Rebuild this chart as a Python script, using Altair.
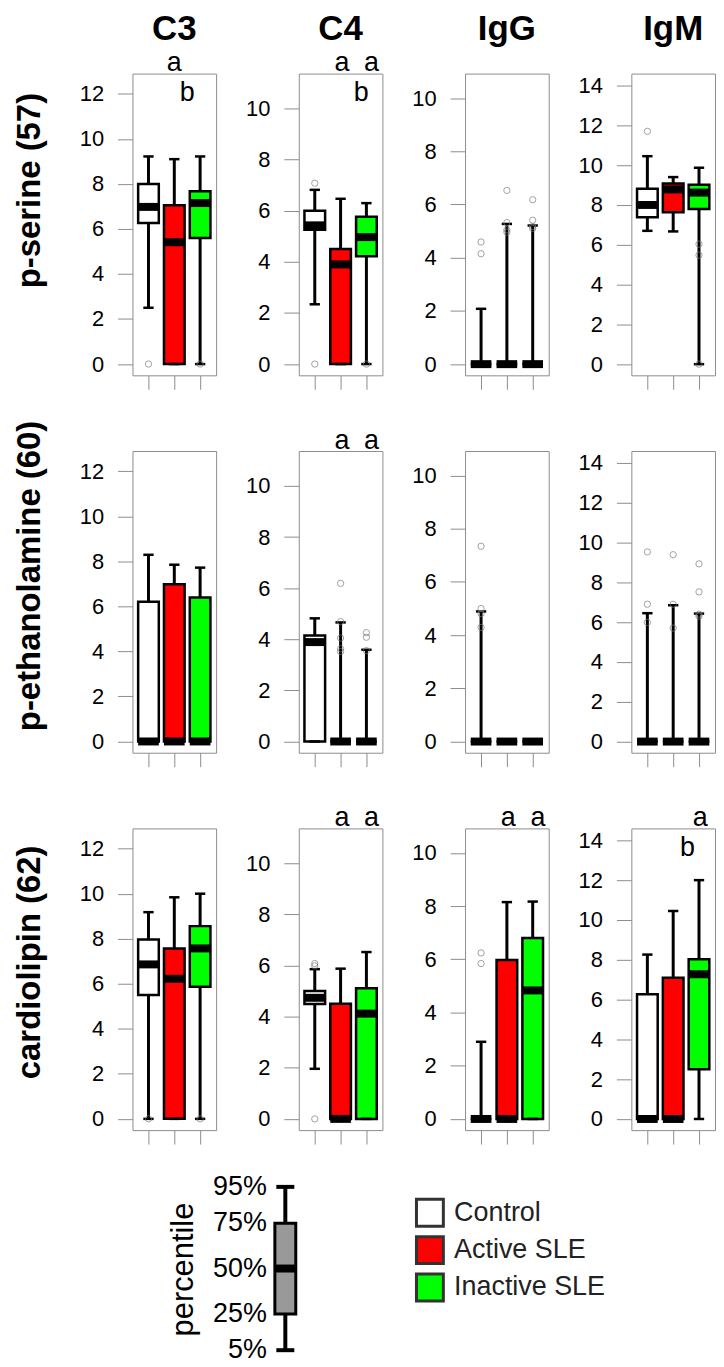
import altair as alt
import pandas as pd

FONT = "Liberation Sans, Arial, sans-serif"
GREY = "#8c8c8c"

ROWS = ["p-serine (57)", "p-ethanolamine (60)", "cardiolipin (62)"]
COLS = ["C3", "C4", "IgG", "IgM"]
GROUPS = ["Control", "Active SLE", "Inactive SLE"]
FILLS = ["#FFFFFF", "#FF0000", "#00FF00"]
POSITIONS = [1, 2, 3]

# y-axis limits and tick values of each column
Y_LIMITS = {"C3": [-0.5, 12.9], "C4": [-0.44, 11.37], "IgG": [-0.42, 10.92], "IgM": [-0.56, 14.6]}
Y_TICKS = {
    "C3": [0, 2, 4, 6, 8, 10, 12],
    "C4": [0, 2, 4, 6, 8, 10],
    "IgG": [0, 2, 4, 6, 8, 10],
    "IgM": [0, 2, 4, 6, 8, 10, 12, 14],
}

# summaries per group (5th pct, 25th, median, 75th, 95th): Control, Active SLE, Inactive SLE
SERINE = {
    "C3": [[2.5, 6.27, 6.98, 8.0, 9.22], [0, 0, 5.41, 7.05, 9.1], [0, 5.6, 7.15, 7.67, 9.22]],
    "C4": [[2.34, 5.26, 5.43, 6.0, 6.82], [0, 0, 3.9, 4.5, 6.47], [0, 4.22, 4.97, 5.77, 6.3]],
    "IgG": [[0, 0, 0, 0, 2.08], [0, 0, 0, 0, 5.27], [0, 0, 0, 0, 5.21]],
    "IgM": [[6.7, 7.38, 8.0, 8.82, 10.45], [6.67, 7.63, 8.78, 9.08, 9.4], [0, 7.8, 8.62, 9.02, 9.87]],
}
ETHANOLAMINE = {
    "C3": [[0, 0, 0, 6.21, 8.29], [0, 0, 0, 6.98, 7.85], [0, 0, 0, 6.39, 7.72]],
    "C4": [[0, 0, 3.89, 4.15, 4.82], [0, 0, 0, 0, 4.66], [0, 0, 0, 0, 3.59]],
    "IgG": [[0, 0, 0, 0, 4.89], [0, 0, 0, 0, 0], [0, 0, 0, 0, 0]],
    "IgM": [[0, 0, 0, 0, 6.45], [0, 0, 0, 0, 6.85], [0, 0, 0, 0, 6.43]],
}
CARDIOLIPIN = {
    "C3": [[0, 5.5, 6.86, 7.97, 9.18], [0, 0, 6.22, 7.57, 9.84], [0, 5.87, 7.57, 8.56, 10.0]],
    "C4": [[1.96, 4.5, 4.74, 5.01, 5.86], [0, 0, 0, 4.51, 5.88], [0, 0, 4.12, 5.11, 6.53]],
    "IgG": [[0, 0, 0, 0, 2.9], [0, 0, 0, 5.97, 8.15], [0, 0, 4.83, 6.8, 8.17]],
    "IgM": [[0, 0, 0, 6.27, 8.26], [0, 0, 0, 7.09, 10.45], [0, 2.5, 7.27, 8.03, 12.0]],
}

# outlying values per group
SERINE_OUT = {
    "C3": [[0], [], [0]],
    "C4": [[7.08, 0], [], [0]],
    "IgG": [[4.59, 4.15], [6.53, 5.32, 5.05, 4.96], [6.18, 5.41, 5.17, 5.1]],
    "IgM": [[11.7], [], [6.03, 5.48, 0]],
}
ETHANOLAMINE_OUT = {
    "C3": [[], [], []],
    "C4": [[], [6.19, 4.69, 4.05, 3.63, 3.52], [4.26, 4.08, 3.56]],
    "IgG": [[7.34, 5.0, 4.81, 4.29], [], []],
    "IgM": [[9.53, 6.9, 5.99], [9.39, 6.9, 5.7], [8.93, 7.52, 6.4, 6.3]],
}
CARDIOLIPIN_OUT = {
    "C3": [[0], [], [0]],
    "C4": [[6.08, 5.99, 0], [], []],
    "IgG": [[6.24, 5.84], [], []],
    "IgM": [[], [], []],
}

SUMMARY = {ROWS[0]: SERINE, ROWS[1]: ETHANOLAMINE, ROWS[2]: CARDIOLIPIN}
OUTLIERS = {ROWS[0]: SERINE_OUT, ROWS[1]: ETHANOLAMINE_OUT, ROWS[2]: CARDIOLIPIN_OUT}

# significance letters: (row, column, letter, group position, placement)
LETTERS = [
    (ROWS[0], "C3", "a", 2.0, "above"),
    (ROWS[0], "C3", "b", 2.5, "inside"),
    (ROWS[0], "C4", "a", 2.05, "above"),
    (ROWS[0], "C4", "a", 3.2, "above"),
    (ROWS[0], "C4", "b", 2.8, "inside"),
    (ROWS[1], "C4", "a", 2.05, "above"),
    (ROWS[1], "C4", "a", 3.2, "above"),
    (ROWS[2], "C4", "a", 2.05, "above"),
    (ROWS[2], "C4", "a", 3.2, "above"),
    (ROWS[2], "IgG", "a", 2.05, "above"),
    (ROWS[2], "IgG", "a", 3.2, "above"),
    (ROWS[2], "IgM", "a", 3.05, "above"),
    (ROWS[2], "IgM", "b", 2.55, "inside"),
]

PERCENTILES = [5, 25, 50, 75, 95]
PERCENTILE_TITLE = "percentile"

PANEL_W, PANEL_H = 84, 303
ROW_TITLE_CENTER = [117, 125, 134]


def panel(ri, ci):
    row, col = ROWS[ri], COLS[ci]
    stats = SUMMARY[row][col]
    df = pd.DataFrame({
        "group": GROUPS,
        "pos": POSITIONS,
        "lo": [s[0] for s in stats],
        "q1": [s[1] for s in stats],
        "med": [s[2] for s in stats],
        "q3": [s[3] for s in stats],
        "hi": [s[4] for s in stats],
    })
    out_rows = [
        {"group": g, "pos": p, "value": v}
        for g, p, vals in zip(GROUPS, POSITIONS, OUTLIERS[row][col])
        for v in vals
    ]
    out_df = pd.DataFrame(out_rows, columns=["group", "pos", "value"])

    xs = alt.Scale(domain=[0.38, 3.62], nice=False, zero=False)
    ys = alt.Scale(domain=Y_LIMITS[col], nice=False, zero=False)
    xaxis = alt.Axis(values=POSITIONS, labels=False, ticks=True, tickSize=14, tickColor=GREY,
                     tickWidth=1, domain=False, grid=False, title=None)
    ykw = dict(values=Y_TICKS[col], tickSize=15, tickColor=GREY, tickWidth=1, labelPadding=14,
               labelFontSize=22, labelFont=FONT, labelColor="black", domain=False, grid=False,
               labelOverlap=False)
    if ci == 0:
        ykw.update(title=row, titleFontSize=33, titleFont=FONT, titleFontWeight="bold",
                   titleColor="black", titlePadding=33, titleY=ROW_TITLE_CENTER[ri])
    else:
        ykw.update(title=None)
    yaxis = alt.Axis(**ykw)

    base = alt.Chart(df).transform_calculate(
        x0="datum.pos - 0.4", x1="datum.pos + 0.4",
        s0="datum.pos - 0.2", s1="datum.pos + 0.2",
    )
    whisk = base.mark_rule(color="black", strokeWidth=3).encode(
        x=alt.X("pos:Q", scale=xs, axis=xaxis),
        y=alt.Y("lo:Q", scale=ys, axis=yaxis),
        y2="hi:Q",
    )
    box = base.mark_rect(stroke="black", strokeWidth=2.5).encode(
        x="x0:Q", x2="x1:Q", y="q1:Q", y2="q3:Q",
        fill=alt.Fill("group:N", scale=alt.Scale(domain=GROUPS, range=FILLS), legend=None),
    )
    med = base.mark_rule(color="black", strokeWidth=8).encode(x="x0:Q", x2="x1:Q", y="med:Q")
    cap_lo = base.mark_rule(color="black", strokeWidth=2.5).encode(x="s0:Q", x2="s1:Q", y="lo:Q")
    cap_hi = base.mark_rule(color="black", strokeWidth=2.5).encode(x="s0:Q", x2="s1:Q", y="hi:Q")
    layers = [whisk, box, med, cap_lo, cap_hi]

    if len(out_df):
        layers.append(
            alt.Chart(out_df).mark_point(shape="circle", filled=False, color="#7a7a7a",
                                         size=40, strokeWidth=1).encode(x="pos:Q", y="value:Q")
        )
    lt = [(l, p, w) for (r, c, l, p, w) in LETTERS if r == row and c == col]
    if lt:
        ldf = pd.DataFrame(lt, columns=["letter", "pos", "where"])
        above = ldf[ldf["where"] == "above"]
        inside = ldf[ldf["where"] == "inside"]
        if len(above):
            layers.append(alt.Chart(above).mark_text(fontSize=27, font=FONT, baseline="alphabetic",
                                                     align="center", color="black").encode(
                x="pos:Q", y=alt.value(-2.5), text="letter:N"))
        if len(inside):
            layers.append(alt.Chart(inside).mark_text(fontSize=27, font=FONT, baseline="alphabetic",
                                                      align="center", color="black").encode(
                x="pos:Q", y=alt.value(28), text="letter:N"))
    if ri == 0:
        layers.append(
            alt.Chart(pd.DataFrame({"title": [col]})).mark_text(
                fontSize=35, font=FONT, fontWeight="bold", baseline="alphabetic",
                align="center", color="black").encode(
                x=alt.value(PANEL_W / 2), y=alt.value(-34), text="title:N"))

    return alt.layer(*layers).properties(width=PANEL_W, height=PANEL_H)


panels = [panel(ri, ci) for ri in range(len(ROWS)) for ci in range(len(COLS))]

# ---- percentile key -------------------------------------------------------
pct_df = pd.DataFrame({
    "lo": [PERCENTILES[0]], "q1": [PERCENTILES[1]], "med": [PERCENTILES[2]],
    "q3": [PERCENTILES[3]], "hi": [PERCENTILES[4]],
})
pct_lab = pd.DataFrame({"p": PERCENTILES, "label": [f"{p}%" for p in PERCENTILES]})
px = alt.Scale(domain=[0, 1], range=[-24, -3], nice=False, zero=False)
py = alt.Scale(domain=[PERCENTILES[0], PERCENTILES[-1]], range=[145, -19], nice=False, zero=False)
pbase = alt.Chart(pct_df).transform_calculate(mid="0.5", left="0", right="1", sl="0.07", sr="0.93")
pwhisk = pbase.mark_rule(color="black", strokeWidth=4).encode(
    x=alt.X("mid:Q", scale=px, axis=None), y=alt.Y("lo:Q", scale=py, axis=None), y2="hi:Q")
pbox = pbase.mark_rect(fill="#999999", stroke="black", strokeWidth=3).encode(
    x="left:Q", x2="right:Q", y="q1:Q", y2="q3:Q")
pmed = pbase.mark_rule(color="black", strokeWidth=8).encode(x="left:Q", x2="right:Q", y="med:Q")
pcap_lo = pbase.mark_rule(color="black", strokeWidth=4).encode(x="sl:Q", x2="sr:Q", y="lo:Q")
pcap_hi = pbase.mark_rule(color="black", strokeWidth=4).encode(x="sl:Q", x2="sr:Q", y="hi:Q")
plabels = alt.Chart(pct_lab).mark_text(align="right", baseline="middle", fontSize=27, font=FONT,
                                       color="black").encode(
    x=alt.value(-32), y="p:Q", text="label:N")
ptitle = alt.Chart(pd.DataFrame({"t": [PERCENTILE_TITLE]})).mark_text(
    angle=270, align="center", baseline="middle", fontSize=31, font=FONT, color="black").encode(
    x=alt.value(-115), y=alt.value(64), text="t:N")
pct = alt.layer(pwhisk, pbox, pmed, pcap_lo, pcap_hi, plabels, ptitle)

# ---- group colour key -----------------------------------------------------
leg_df = pd.DataFrame({"group": GROUPS})
lys = alt.Scale(type="point", domain=GROUPS, range=[7, 82], padding=0)
lsq = alt.Chart(leg_df).mark_square(size=729, stroke="#333333", strokeWidth=3, opacity=1).encode(
    x=alt.value(131.7),
    y=alt.Y("group:N", scale=lys, axis=None),
    fill=alt.Fill("group:N", scale=alt.Scale(domain=GROUPS, range=FILLS), legend=None),
)
ltx = alt.Chart(leg_df).mark_text(align="left", baseline="middle", fontSize=27, font=FONT,
                                  color="#222222").encode(
    x=alt.value(156), y=alt.Y("group:N", scale=lys, axis=None), text="group:N")
leg = alt.layer(lsq, ltx)

bottom = alt.layer(pct, leg).resolve_scale(y="independent").properties(
    width=PANEL_W, height=142, view=alt.ViewBackground(strokeOpacity=0))

spacer = alt.Chart(pd.DataFrame({"v": [0]})).mark_point(opacity=0).encode(
    x=alt.value(0), y=alt.value(0)).properties(
    width=PANEL_W, height=142, view=alt.ViewBackground(strokeOpacity=0))

chart = alt.concat(
    *panels, spacer, bottom,
    columns=4, spacing={"row": 76, "column": 83}, bounds="flush",
).properties(
    padding={"left": 5, "top": 0, "right": 0, "bottom": 0}
).configure(font=FONT).configure_view(stroke=GREY, strokeWidth=1)

chart.save("out.html", embed_options={"renderer": "svg", "actions": False})
